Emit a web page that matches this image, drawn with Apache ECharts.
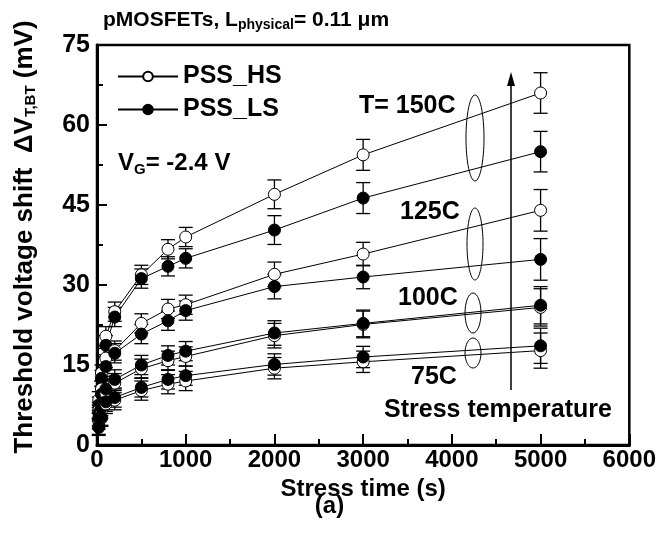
<!DOCTYPE html>
<html><head><meta charset="utf-8">
<script src="https://cdn.jsdelivr.net/npm/echarts@6/dist/echarts.min.js"></script>
<style>html,body{margin:0;padding:0;background:#fff}#c{width:659px;height:540px}</style>
</head><body><div id="c"></div>
<script>
const times = [20, 50, 100, 200, 500, 800, 1000, 2000, 3000, 5000];
const xTicks = [0, 1000, 2000, 3000, 4000, 5000, 6000];
const yTicks = [0, 15, 30, 45, 60, 75];

const hs150 = [8.5, 13.5, 20.4, 25.0, 31.9, 36.7, 39.0, 47.0, 54.4, 66.0];
const ls150 = [7.5, 12.5, 18.7, 24.0, 31.2, 33.5, 35.0, 40.3, 46.3, 55.0];
const hs125 = [6.5, 10.5, 16.3, 17.7, 22.8, 25.5, 26.3, 32.0, 35.8, 44.0];
const ls125 = [6.0, 9.5, 14.7, 17.2, 20.8, 23.3, 25.2, 29.7, 31.5, 34.8];
const hs100 = [4.5, 6.5, 9.7, 11.6, 14.3, 15.8, 16.6, 20.5, 22.6, 25.8];
const ls100 = [5.0, 7.0, 10.5, 12.3, 15.0, 16.8, 17.6, 21.0, 22.8, 26.2];
const hs75 = [3.5, 5.0, 7.7, 8.4, 10.2, 11.4, 12.0, 14.4, 15.6, 17.7];
const ls75 = [3.3, 5.2, 8.1, 8.9, 10.8, 12.3, 13.0, 15.1, 16.5, 18.6];

const err150 = [1.5, 1.5, 1.8, 1.8, 1.8, 1.8, 1.8, 2.7, 2.9, 3.8];
const err125 = [1.5, 1.5, 1.8, 1.8, 1.8, 1.8, 1.8, 2.3, 2.2, 3.9];
const err100 = [1.5, 1.5, 1.8, 1.8, 1.8, 1.8, 1.8, 2.3, 2.5, 3.5];
const err75 = [1.5, 1.5, 1.8, 1.8, 1.8, 1.8, 1.8, 2.0, 2.0, 3.3];

const groups = [
  {name: 'PSS_HS', vals: hs150, err: err150, open: true},
  {name: 'PSS_LS', vals: ls150, err: err150, open: false},
  {name: 'PSS_HS', vals: hs125, err: err125, open: true},
  {name: 'PSS_LS', vals: ls125, err: err125, open: false},
  {name: 'PSS_HS', vals: hs100, err: err100, open: true},
  {name: 'PSS_LS', vals: ls100, err: err100, open: false},
  {name: 'PSS_HS', vals: hs75, err: err75, open: true},
  {name: 'PSS_LS', vals: ls75, err: err75, open: false}
];

const FONT = '"Liberation Sans", Arial, sans-serif';
const errData = [];
groups.forEach(g => g.vals.forEach((v, i) => errData.push([times[i], v - g.err[i], v + g.err[i]])));

const series = [{
  type: 'custom', z: 1, silent: true,
  data: errData,
  renderItem: function (params, api) {
    const x = api.value(0);
    const lo = api.coord([x, api.value(1)]);
    const hi = api.coord([x, api.value(2)]);
    const w = 7;
    const st = {stroke: '#000', lineWidth: 1.3};
    return {type: 'group', children: [
      {type: 'line', shape: {x1: lo[0], y1: lo[1], x2: hi[0], y2: hi[1]}, style: st},
      {type: 'line', shape: {x1: lo[0] - w, y1: lo[1], x2: lo[0] + w, y2: lo[1]}, style: st},
      {type: 'line', shape: {x1: hi[0] - w, y1: hi[1], x2: hi[0] + w, y2: hi[1]}, style: st}
    ]};
  }
}];
groups.forEach(g => {
  series.push({
    type: 'line', name: g.name, z: 3,
    data: g.vals.map((v, i) => [times[i], v]),
    symbol: 'circle', symbolSize: 12,
    lineStyle: {color: '#000', width: 1},
    itemStyle: {color: g.open ? '#fff' : '#000', borderColor: '#000', borderWidth: 1},
    emphasis: {disabled: true}
  });
});

const txt = (s, x, y, size) => ({type: 'text', x: x, y: y, style: {text: s, font: 'bold ' + size + 'px ' + FONT, fill: '#000'}});

const chart = echarts.init(document.getElementById('c'), null, {renderer: 'canvas'});
chart.setOption({
  animation: false,
  backgroundColor: '#fff',
  title: {
    text: '{a|pMOSFETs, L}{s|physical}{a|= 0.11 μm}',
    left: 98, top: 3,
    textStyle: {rich: {
      a: {fontFamily: FONT, fontWeight: 'bold', fontSize: 21, color: '#000'},
      s: {fontFamily: FONT, fontWeight: 'bold', fontSize: 14, color: '#000', padding: [10, 0, 0, 0]}
    }}
  },
  legend: {
    data: ['PSS_HS', 'PSS_LS'],
    orient: 'vertical', left: 112, top: 59,
    itemWidth: 60, itemHeight: 12, itemGap: 8,
    textStyle: {fontFamily: FONT, fontWeight: 'bold', fontSize: 25, color: '#000'}
  },
  grid: {left: 97, right: 29, top: 45, bottom: 95, show: true, borderColor: '#000', borderWidth: 2.5},
  xAxis: {
    type: 'value', min: xTicks[0], max: xTicks[xTicks.length - 1], interval: 1000,
    name: 'Stress time (s)', nameLocation: 'middle', nameGap: 23,
    nameTextStyle: {fontFamily: FONT, fontWeight: 'bold', fontSize: 24, color: '#000', verticalAlign: 'top'},
    axisLine: {lineStyle: {color: '#000', width: 3}},
    axisTick: {inside: true, length: 11, lineStyle: {color: '#000', width: 2}},
    minorTick: {show: true, splitNumber: 2, length: 6, lineStyle: {color: '#000', width: 2}},
    splitLine: {show: false},
    axisLabel: {fontFamily: FONT, fontWeight: 'bold', fontSize: 24, color: '#000', margin: 3,
      formatter: v => String(v)}
  },
  yAxis: {
    type: 'value', min: yTicks[0], max: yTicks[yTicks.length - 1], interval: 15,
    name: '{a|Threshold voltage shift  ΔV}{s|T,BT}{a| (mV)}', nameLocation: 'middle', nameGap: 59,
    nameTextStyle: {padding: [0, 0, 0, 16], rich: {
      a: {fontFamily: FONT, fontWeight: 'bold', fontSize: 26, color: '#000'},
      s: {fontFamily: FONT, fontWeight: 'bold', fontSize: 15, color: '#000', padding: [11, 0, 0, 0]}
    }},
    axisLine: {lineStyle: {color: '#000', width: 3}},
    axisTick: {inside: true, length: 10, lineStyle: {color: '#000', width: 2}},
    minorTick: {show: true, splitNumber: 2, length: 6, lineStyle: {color: '#000', width: 2}},
    splitLine: {show: false},
    axisLabel: {fontFamily: FONT, fontWeight: 'bold', fontSize: 25, color: '#000', margin: 7}
  },
  graphic: [
    {type: 'text', left: 'center', top: 494, style: {text: '(a)', font: 'bold 24px ' + FONT, fill: '#000'}},
    {type: 'text', x: 118, y: 150, style: {rich: {
      a: {fontFamily: FONT, fontWeight: 'bold', fontSize: 24, color: '#000'},
      s: {fontFamily: FONT, fontWeight: 'bold', fontSize: 15, color: '#000', padding: [12, 0, 0, 0]}
    }, text: '{a|V}{s|G}{a|= -2.4 V}'}},
    txt('T= 150C', 359, 94, 25),
    txt('125C', 400, 200, 25),
    txt('100C', 398, 286, 25),
    txt('75C', 411, 365, 25),
    txt('Stress temperature', 384, 398, 25),
    {type: 'ellipse', shape: {cx: 475, cy: 138, rx: 9, ry: 43}, style: {fill: 'none', stroke: '#000', lineWidth: 1}},
    {type: 'ellipse', shape: {cx: 475, cy: 244, rx: 8, ry: 36}, style: {fill: 'none', stroke: '#000', lineWidth: 1}},
    {type: 'ellipse', shape: {cx: 473, cy: 313, rx: 8, ry: 20}, style: {fill: 'none', stroke: '#000', lineWidth: 1}},
    {type: 'ellipse', shape: {cx: 473, cy: 353, rx: 8, ry: 15}, style: {fill: 'none', stroke: '#000', lineWidth: 1}},
    {type: 'line', shape: {x1: 511, y1: 390, x2: 511, y2: 80}, style: {stroke: '#000', lineWidth: 1.5}},
    {type: 'polygon', shape: {points: [[511, 72], [507, 86], [515, 86]]}, style: {fill: '#000'}}
  ],
  series: series
});
</script></body></html>
